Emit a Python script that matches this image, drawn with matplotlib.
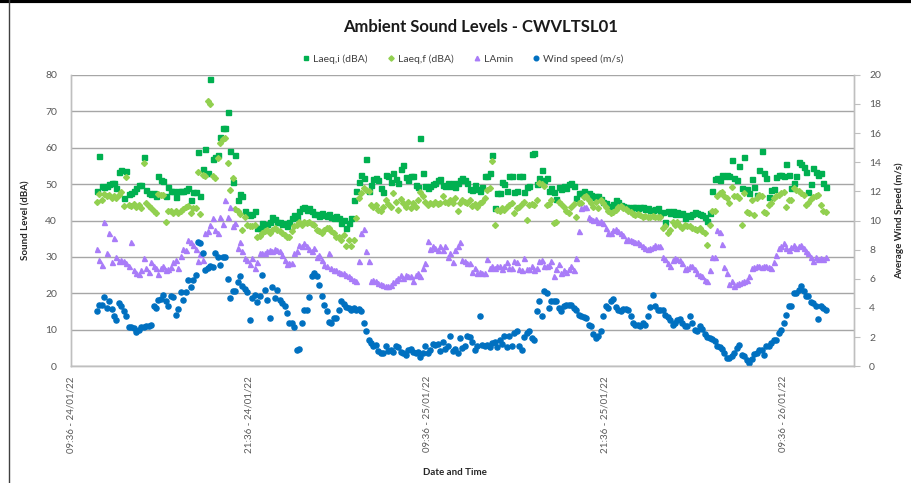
import numpy as np
import pandas as pd
import matplotlib
matplotlib.use("Agg")
import matplotlib.pyplot as plt
import matplotlib.dates as mdates
from matplotlib.lines import Line2D

plt.rcParams["font.family"] = ["Lato", "DejaVu Sans"]

# 10-minute samples, 24/01/22 11:20 onwards
times = pd.date_range("2022-01-24 11:20", periods=296, freq="10min")

laeq_i = [
    48.2, 57.7, 49.5, 49.3, 49.5, 50.0, 50.2, 50.2, 49.0, 53.4, 53.9, 46.1,
    53.6, 47.2, 47.6, 48.1, 48.9, 49.8, 49.8, 57.5, 48.4, 47.6, 47.2, 47.6,
    46.6, 52.2, 51.1, 50.9, 46.6, 49.3, 48.2, 48.1, 46.4, 48.1, 48.2, 48.1,
    48.4, 48.9, 45.7, 47.9, 47.9, 58.9, 46.8, 54.1, 59.5, 53.0, 78.7, 56.8,
    57.5, 58.0, 62.8, 65.3, 65.3, 69.7, 59.1, 50.7, 58.0, 45.7, 47.3, 46.6,
    42.7, 41.8, 41.6, 41.8, 42.7, 37.9, 37.9, 39.3, 38.6, 39.1, 39.7, 41.1,
    40.4, 39.7, 39.5, 39.1, 39.3, 38.5, 39.7, 40.6, 41.4, 41.1, 42.5, 43.4,
    43.6, 42.9, 43.4, 42.5, 41.8, 41.8, 41.3, 42.0, 41.6, 41.3, 41.8, 41.0,
    40.6, 41.3, 40.6, 39.3, 40.2, 37.9, 39.3, 40.6, 45.5, 48.2, 50.7, 52.5,
    51.6, 56.8, 48.1, 49.8, 51.3, 51.6, 51.0, 48.9, 47.7, 52.5, 52.1, 50.7,
    53.0, 51.4, 50.2, 54.1, 55.3, 51.9, 51.1, 52.2, 52.1, 49.8, 49.3, 62.6,
    53.0, 49.5, 48.9, 49.5, 50.0, 50.4, 51.1, 51.3, 49.8, 49.5, 50.2, 49.5,
    50.4, 49.2, 50.4, 51.1, 51.6, 51.0, 50.2, 48.6, 48.4, 49.8, 48.6, 48.2,
    49.3, 52.1, 52.3, 53.0, 58.0, 43.4, 47.5, 47.5, 50.7, 50.1, 48.1, 52.1,
    52.1, 47.9, 48.1, 52.1, 52.3, 47.7, 49.3, 49.5, 58.3, 58.6, 50.0, 51.6,
    53.9, 51.1, 51.6, 48.1, 49.0, 47.9, 46.0, 49.3, 48.6, 49.5, 48.9, 50.0,
    50.4, 49.5, 46.1, 47.5, 47.5, 48.2, 47.1, 47.5, 47.1, 46.4, 46.8, 46.6,
    46.0, 45.2, 44.7, 44.0, 43.8, 44.6, 45.7, 45.0, 44.2, 43.9, 43.6, 43.6,
    43.4, 43.8, 43.6, 43.4, 43.6, 43.6, 43.2, 43.4, 43.0, 42.9, 43.2, 43.4,
    42.0, 42.2, 39.5, 42.5, 42.0, 42.5, 41.8, 42.2, 41.8, 42.1, 40.6, 41.5,
    41.3, 41.8, 42.4, 42.0, 41.8, 41.5, 41.1, 40.0, 42.0, 48.0, 51.3, 51.6,
    51.1, 52.5, 52.1, 52.5, 52.2, 56.6, 51.8, 51.0, 55.0, 48.9, 57.4, 48.6,
    47.5, 51.3, 49.1, 47.0, 53.9, 59.2, 53.0, 51.6, 46.4, 48.4, 48.6, 51.9,
    52.5, 52.5, 52.3, 55.5, 52.5, 48.9, 50.2, 52.1, 56.0, 55.6, 54.8, 53.4,
    47.9, 50.0, 54.3, 53.4, 52.5, 53.0, 50.4, 49.1,
]

laeq_f = [
    45.2, 47.3, 45.7, 47.2, 46.8, 47.0, 46.3, 46.8, 46.3, 47.0, 47.7, 44.1,
    52.0, 44.3, 44.1, 44.5, 43.8, 44.3, 43.4, 55.7, 44.9, 44.0, 43.5, 42.5,
    42.0, 47.2, 46.9, 47.0, 39.7, 42.5, 42.7, 42.0, 42.5, 42.0, 42.7, 43.1,
    43.8, 44.1, 42.0, 43.5, 43.4, 53.4, 41.8, 52.5, 52.2, 72.9, 72.1, 52.2,
    51.6, 57.1, 61.2, 62.3, 62.6, 55.9, 48.4, 51.6, 43.1, 42.5, 41.8, 37.4,
    41.1, 38.8, 38.5, 38.4, 38.8, 35.6, 35.8, 36.5, 37.0, 37.4, 36.7, 37.4,
    37.9, 37.4, 37.0, 36.5, 36.1, 35.6, 35.6, 37.2, 38.5, 38.8, 39.5, 38.8,
    39.7, 39.3, 39.5, 39.1, 38.8, 37.4, 37.2, 36.7, 37.4, 37.9, 37.9, 37.0,
    36.5, 35.6, 35.6, 34.7, 36.1, 33.1, 34.7, 33.1, 34.7, 40.6, 46.1, 47.5,
    48.9, 48.4, 48.0, 44.3, 43.8, 44.3, 42.9, 42.5, 43.8, 45.7, 44.6, 43.8,
    47.5, 45.2, 42.9, 46.0, 44.9, 43.8, 45.2, 43.4, 44.7, 43.8, 45.7, 47.9,
    46.6, 45.2, 44.3, 44.7, 44.5, 45.2, 44.5, 44.7, 46.6, 45.2, 44.7, 45.6,
    44.9, 46.1, 42.7, 44.9, 45.7, 45.2, 44.7, 45.7, 44.0, 44.5, 43.6, 44.7,
    45.2, 46.1, 48.4, 48.9, 56.2, 38.8, 42.9, 42.5, 43.4, 42.9, 43.8, 44.3,
    44.7, 42.0, 43.4, 43.8, 44.5, 45.2, 40.2, 44.3, 44.5, 44.3, 45.7, 50.2,
    50.0, 49.5, 44.3, 44.5, 45.7, 39.3, 39.7, 45.2, 44.5, 43.8, 42.5, 42.0,
    43.8, 44.5, 41.1, 44.7, 44.9, 46.4, 46.6, 45.7, 44.7, 43.8, 45.2, 43.4,
    45.7, 44.9, 43.8, 42.5, 42.0, 42.2, 42.9, 43.8, 44.0, 43.4, 43.1, 42.7,
    42.2, 41.8, 41.6, 41.8, 41.6, 41.1, 41.3, 41.1, 41.1, 41.3, 40.9, 41.1,
    40.9, 37.9, 38.4, 36.5, 37.4, 39.5, 38.8, 39.7, 38.4, 38.0, 38.8, 38.4,
    38.4, 37.9, 37.7, 37.4, 37.9, 37.2, 36.5, 33.3, 38.8, 42.7, 42.5, 46.6,
    47.5, 47.9, 46.6, 46.1, 44.9, 49.3, 46.6, 46.6, 46.1, 38.8, 47.5, 42.2,
    42.0, 45.7, 41.6, 46.1, 47.0, 46.6, 42.2, 42.0, 44.3, 44.7, 46.1, 46.6,
    47.0, 47.5, 47.9, 43.6, 45.7, 45.7, 48.9, 48.4, 48.0, 47.5, 47.0, 44.3,
    44.7, 45.8, 46.4, 46.6, 47.0, 44.3, 42.7, 42.4,
]

lamin = [
    32.1, 29.2, 27.9, 39.5, 31.1, 36.5, 28.5, 35.3, 30.1, 28.8, 29.2, 29.0,
    28.3, 27.4, 34.2, 26.3, 25.6, 25.4, 26.3, 29.7, 26.9, 25.8, 28.5, 27.6,
    26.9, 25.4, 26.9, 27.6, 26.5, 26.7, 27.2, 28.5, 29.2, 26.9, 30.3, 32.1,
    31.9, 34.7, 34.2, 33.3, 32.1, 28.8, 30.9, 29.2, 36.5, 37.0, 38.8, 40.6,
    37.4, 36.5, 41.1, 39.0, 45.7, 41.1, 43.8, 38.4, 39.3, 32.4, 34.2, 31.5,
    29.7, 29.2, 28.1, 29.7, 26.9, 28.5, 31.1, 31.0, 31.2, 31.5, 31.8, 31.5,
    32.1, 31.9, 31.5, 30.6, 29.2, 28.1, 28.3, 28.3, 31.1, 31.5, 33.3, 33.1,
    33.8, 33.0, 32.3, 31.5, 32.4, 30.1, 30.6, 29.2, 27.9, 27.6, 31.2, 26.9,
    26.5, 26.3, 26.0, 25.6, 25.6, 25.1, 24.7, 24.2, 23.6, 23.3, 28.8, 36.5,
    37.6, 31.5, 29.0, 23.3, 23.7, 23.3, 22.8, 22.6, 22.4, 22.1, 21.9, 22.4,
    23.0, 23.6, 24.2, 25.1, 24.2, 25.1, 24.7, 24.7, 23.3, 25.1, 25.6, 24.8,
    26.9, 28.3, 34.5, 32.1, 32.9, 32.4, 32.0, 32.9, 32.0, 33.1, 30.1, 31.2,
    28.5, 32.0, 32.9, 34.2, 29.2, 28.8, 28.3, 28.3, 26.0, 26.9, 25.6, 26.0,
    25.6, 25.6, 29.4, 26.9, 27.4, 26.9, 27.6, 27.4, 26.7, 27.4, 28.5, 26.9,
    26.9, 28.8, 28.5, 26.7, 26.5, 29.7, 26.7, 26.7, 27.6, 26.5, 26.9, 28.8,
    29.2, 27.4, 27.4, 27.9, 28.8, 24.7, 26.7, 28.1, 25.6, 26.5, 26.0, 26.7,
    27.6, 26.5, 29.7, 37.0, 43.4, 43.8, 43.8, 41.1, 40.4, 40.2, 40.4, 39.7,
    39.8, 39.3, 37.9, 36.5, 36.5, 37.4, 37.6, 37.2, 36.5, 36.1, 34.7, 34.8,
    34.7, 34.5, 34.2, 34.0, 33.6, 33.1, 32.4, 32.2, 32.4, 32.7, 33.3, 33.1,
    32.9, 30.1, 29.4, 28.3, 27.6, 29.2, 29.7, 29.4, 29.2, 28.3, 26.7, 26.9,
    27.6, 27.4, 26.7, 25.6, 25.1, 24.7, 23.7, 23.5, 26.3, 30.1, 30.1, 37.3,
    36.8, 33.5, 27.2, 25.6, 22.6, 23.3, 21.9, 22.6, 22.8, 23.0, 23.3, 23.7,
    24.7, 26.9, 27.2, 27.4, 27.6, 27.2, 27.4, 27.6, 27.2, 26.9, 28.6, 30.6,
    32.4, 33.1, 33.8, 32.4, 32.0, 32.7, 33.3, 32.4, 32.9, 33.3, 32.4, 31.5,
    31.0, 30.1, 28.8, 30.1, 29.4, 29.7, 29.4, 29.9,
]

wind = [
    3.77, 4.22, 4.22, 4.73, 4.00, 4.45, 3.93, 3.47, 3.15, 4.34, 4.11, 3.81,
    3.47, 2.69, 2.69, 2.60, 2.33, 2.51, 2.69, 2.69, 2.79, 2.79, 2.85, 4.15,
    4.00, 4.57, 4.61, 4.91, 4.45, 4.11, 4.84, 4.75, 3.54, 3.93, 5.07, 4.57,
    5.07, 5.89, 5.43, 5.89, 6.28, 8.56, 8.45, 7.76, 6.58, 6.74, 6.90, 6.80,
    7.76, 7.53, 6.96, 7.53, 7.49, 5.98, 4.68, 5.18, 5.18, 5.75, 6.16, 5.48,
    5.30, 5.07, 3.20, 4.68, 4.91, 4.38, 4.79, 6.28, 5.25, 4.55, 3.31, 5.45,
    4.68, 5.25, 4.57, 4.34, 4.11, 3.65, 2.97, 2.97, 2.69, 1.14, 1.19, 2.97,
    3.88, 3.88, 4.75, 6.16, 6.39, 6.16, 5.60, 4.80, 4.20, 3.80, 3.05, 3.00,
    3.31, 3.31, 3.88, 4.45, 4.30, 4.06, 4.00, 3.88, 4.00, 3.85, 3.93, 3.77,
    3.00, 2.40, 1.83, 1.60, 1.37, 1.45, 1.03, 0.91, 0.91, 1.37, 1.07, 1.10,
    1.00, 1.37, 1.30, 1.00, 0.91, 0.80, 1.10, 1.20, 1.00, 0.91, 0.95, 0.64,
    0.91, 1.37, 0.91, 1.14, 1.55, 1.48, 1.50, 1.03, 1.64, 1.19, 1.37, 2.05,
    1.03, 1.19, 0.91, 1.94, 1.25, 1.37, 2.05, 2.00, 1.70, 1.10, 1.37, 3.42,
    1.48, 1.37, 1.48, 1.30, 1.60, 1.70, 1.30, 1.80, 1.55, 2.05, 1.30, 2.05,
    1.37, 2.28, 2.40, 1.37, 1.14, 2.00, 2.28, 2.40, 1.94, 1.78, 3.77, 4.45,
    3.47, 5.14, 5.02, 4.00, 4.45, 4.50, 4.50, 4.00, 3.77, 4.11, 4.22, 4.22,
    4.22, 4.00, 3.88, 3.54, 3.47, 3.40, 3.30, 2.85, 2.74, 2.24, 1.94, 2.05,
    2.40, 3.47, 4.11, 4.00, 4.45, 4.61, 4.06, 3.88, 3.77, 3.93, 3.93, 3.84,
    3.42, 2.97, 2.85, 2.85, 2.74, 2.97, 2.85, 3.47, 4.06, 4.91, 4.11, 3.88,
    3.84, 3.84, 3.54, 3.40, 3.20, 2.85, 3.00, 3.20, 3.25, 2.97, 2.74, 2.74,
    3.47, 3.00, 2.47, 2.40, 2.74, 2.55, 2.24, 2.00, 1.94, 1.87, 1.71, 1.42,
    1.32, 1.19, 0.91, 0.57, 0.57, 0.68, 0.90, 1.25, 1.48, 0.80, 0.68, 0.46,
    0.23, 0.50, 0.87, 0.91, 1.14, 1.14, 0.80, 1.42, 1.42, 1.60, 1.78, 1.78,
    2.28, 2.51, 2.97, 3.50, 4.11, 4.15, 5.02, 5.00, 5.25, 5.48, 5.18, 4.84,
    4.80, 4.38, 4.34, 4.11, 3.24, 4.11, 4.00, 3.88,
]

x_start = pd.Timestamp("2022-01-24 09:36")
x_end = x_start + pd.Timedelta(hours=52.8)
tick_times = pd.date_range(x_start, periods=5, freq="12h")

grey_txt = "#595959"

fig = plt.figure(figsize=(9.11, 4.83), dpi=100)
ax = fig.add_axes([0.0779, 0.2416, 0.8595, 0.6037])
ax2 = ax.twinx()

h1, = ax.plot(times, laeq_i, "s", ms=3.6, color="#00B050", mec="#00B050", ls="none",
              label="Laeq,i (dBA)")
h2, = ax.plot(times, laeq_f, "D", ms=3.0, color="#92D050", mec="#92D050", ls="none",
              label="Laeq,f (dBA)")
h3, = ax.plot(times, lamin, "^", ms=3.6, color="#A97CF8", mec="#A97CF8", ls="none",
              label="LAmin")
h4, = ax2.plot(times, wind, "o", ms=3.7, color="#0070C0", mec="#0070C0", ls="none",
               label="Wind speed (m/s)")

ax.set_ylim(0, 80)
ax.set_yticks(np.arange(0, 81, 10))
ax2.set_ylim(0, 20)
ax2.set_yticks(np.arange(0, 21, 2))
ax.set_xlim(x_start, x_end)
ax.set_xticks(tick_times)
ax.xaxis.set_major_formatter(mdates.DateFormatter("%H:%M - %d/%m/%y"))

ax.grid(axis="y", color="#A6A6A6", lw=1.0)
ax.set_axisbelow(True)
for a in (ax, ax2):
    a.spines["top"].set_visible(False)
    for s in ("left", "right", "bottom"):
        a.spines[s].set_color("#BFBFBF")
        a.spines[s].set_linewidth(1.0)

ax.tick_params(axis="y", length=0, pad=10, labelsize=7.5, labelcolor=grey_txt)
ax.tick_params(axis="x", length=0, pad=7, labelsize=7, labelcolor=grey_txt,
               labelrotation=90)
ax2.tick_params(axis="y", length=4, color="#BFBFBF", pad=7, labelsize=7.5,
                labelcolor=grey_txt)

ax.set_ylabel("Sound Level (dBA)", fontsize=7, fontweight="bold", color="#262626")
ax.yaxis.set_label_coords(-0.052, 0.5)
ax2.set_ylabel("Average Wind Speed (m/s)", fontsize=7, fontweight="bold",
               color="#262626")
ax2.yaxis.set_label_coords(1.052, 0.5)
ax.set_xlabel("Date and Time", fontsize=7, fontweight="bold", color="#262626")
ax.xaxis.set_label_coords(0.49, -0.349)

fig.text(0.527, 0.944, "Ambient Sound Levels - CWVLTSL01", ha="center", va="center",
         fontsize=12, fontweight="bold", color="#1a1a1a")
fig.legend(handles=[h1, h2, h3, h4], loc="center", bbox_to_anchor=(0.508, 0.878),
           ncol=4, frameon=False, fontsize=7.5, handlelength=0.8, handletextpad=0.3,
           columnspacing=1.8, markerscale=0.9, labelcolor="#404040")

# chart frame
fig.add_artist(Line2D([0, 1], [0.997, 0.997], transform=fig.transFigure,
                      color="black", lw=3))
fig.add_artist(Line2D([8.5 / 911, 8.5 / 911], [0, 1], transform=fig.transFigure,
                      color="#404040", lw=1))

fig.savefig("out.png", dpi=100)
plt.close(fig)
